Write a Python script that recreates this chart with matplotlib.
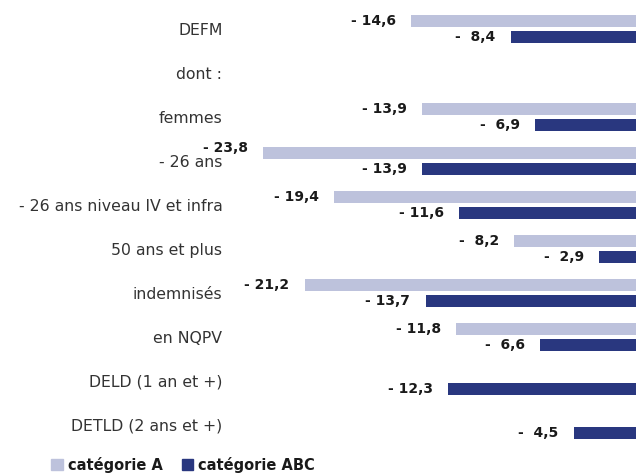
import numpy as np
import matplotlib
matplotlib.use("Agg")
import matplotlib.pyplot as plt
from matplotlib.patches import Patch

categories = [
    "DEFM",
    "dont :",
    "femmes",
    "- 26 ans",
    "- 26 ans niveau IV et infra",
    "50 ans et plus",
    "indemnisés",
    "en NQPV",
    "DELD (1 an et +)",
    "DETLD (2 ans et +)",
]
cat_a = [-14.6, np.nan, -13.9, -23.8, -19.4, -8.2, -21.2, -11.8, np.nan, np.nan]
cat_abc = [-8.4, np.nan, -6.9, -13.9, -11.6, -2.9, -13.7, -6.6, -12.3, -4.5]
series_names = ["catégorie A", "catégorie ABC"]

color_a = "#BDC2DC"
color_abc = "#29377F"

plt.rcParams["font.family"] = ["DejaVu Sans"]

W, H = 636, 476
fig = plt.figure(figsize=(W / 100, H / 100), dpi=100)
ax = fig.add_axes([228 / W, 0, (W - 228) / W, 1])

y = np.arange(len(categories))
off = 8 / 44
h = 11.7 / 44

def fmt(v):
    return ("- %4.1f" % abs(v)).replace(".", ",")

for vals, color, sign in [(cat_a, color_a, -1), (cat_abc, color_abc, 1)]:
    ax.barh(y + sign * off, vals, height=h, color=color, edgecolor="none")
    for yi, v in zip(y, vals):
        if np.isnan(v):
            continue
        # the longest bar's label is lifted a little, as in the source
        dy = 3.5 if v == min(cat_a) else 0
        ax.annotate(fmt(v), xy=(v, yi + sign * off), xytext=(-11, dy),
                    textcoords="offset points", ha="right", va="center",
                    fontsize=10, fontweight="bold", color="#1a1a1a")

ax.set_xlim(-25.98, -0.62)
ax.set_ylim((H - 28.75) / 44, -28.75 / 44)
ax.set_yticks(y)
ax.set_yticklabels(categories, fontsize=11.3, color="#333333")
ax.tick_params(axis="y", length=0, pad=4)
ax.set_xticks([])
for s in ax.spines.values():
    s.set_visible(False)

handles = [Patch(color=color_a), Patch(color=color_abc)]
leg = fig.legend(handles, series_names, loc="lower left",
                 bbox_to_anchor=(38 / W, -10 / H), ncol=2, frameon=False,
                 handlelength=0.8, handleheight=0.8, handletextpad=0.35,
                 columnspacing=1.3,
                 prop={"size": 10.5, "weight": "bold"})
for t in leg.get_texts():
    t.set_color("#1a1a1a")

fig.savefig("out.png", dpi=100)
